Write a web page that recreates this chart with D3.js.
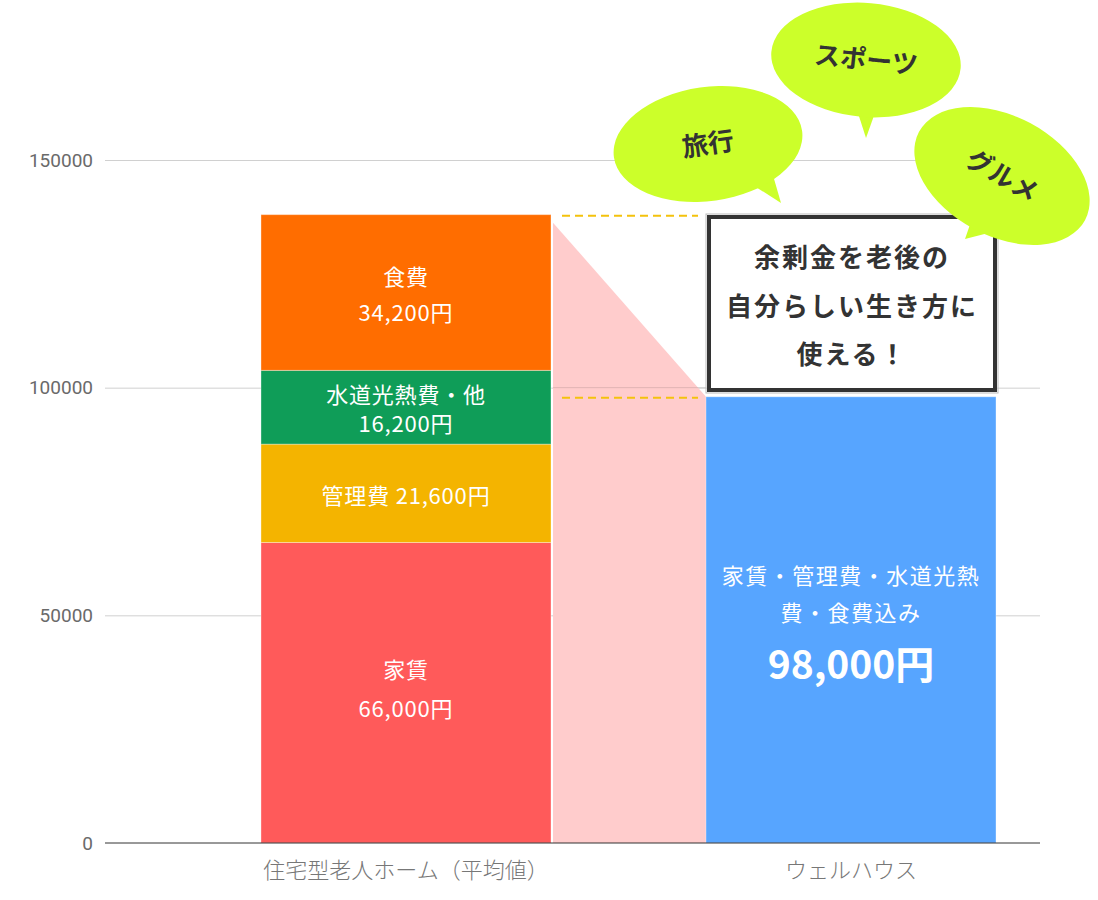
<!DOCTYPE html>
<html><head><meta charset="utf-8">
<script src="https://cdn.jsdelivr.net/npm/d3@7"></script>
<style>body{margin:0;background:#fff;} svg{display:block;}</style>
</head><body>
<svg id="c" width="1098" height="900"></svg>
<script>
const categories = ["住宅型老人ホーム（平均値）", "ウェルハウス"];
const stackKeys = ["家賃", "管理費", "水道光熱費・他", "食費"];
const stackValues = [66000, 21600, 16200, 34200];
const stackColors = ["#FF5A5A", "#F4B400", "#0F9D58", "#FF6D00"];
const stackLabels = [["家賃", "66,000円"], ["管理費 21,600円"], ["水道光熱費・他", "16,200円"], ["食費", "34,200円"]];
const wellValue = 98000;
const wellLabels = ["家賃・管理費・水道光熱", "費・食費込み"];
const wellValueLabel = "98,000円";
const yTicks = [0, 50000, 100000, 150000];
const messageLines = ["余剰金を老後の", "自分らしい生き方に", "使える！"];
const bubbles = ["旅行", "スポーツ", "グルメ"];

const svg = d3.select("#c");
const y = d3.scaleLinear().domain([0, 180000]).range([843, 23.4]);
const x = d3.scaleBand().domain(categories).range([105, 1040])
  .paddingInner(0.3483).paddingOuter(0.2247).align(0.78);
const bw = x.bandwidth();
const JP = "'Noto Sans CJK JP','Noto Sans',sans-serif";

// gridlines + ticks
const yAxis = d3.axisLeft(y).tickValues(yTicks).tickSize(-935).tickPadding(12).tickFormat(d3.format("d"));
const ga = svg.append("g").attr("transform", "translate(105,0)").call(yAxis);
ga.select(".domain").remove();
ga.selectAll(".tick line").attr("stroke", "#d0d0d0").attr("stroke-width", 1).attr("x1", 0);
ga.selectAll(".tick text").attr("fill", "#6a6a6a").attr("font-size", 19).attr("font-family", "Roboto, 'Noto Sans', sans-serif");
ga.selectAll(".tick").filter(d => d === 0).select("line").remove();

// pink connector
const x1r = x(categories[0]) + bw + 2, x2l = x(categories[1]);
const total = d3.sum(stackValues);
svg.append("path")
  .attr("d", `M${x1r},${y(total) + 8}L${x2l},${y(wellValue)}L${x2l},${y(0)}L${x1r},${y(0)}Z`)
  .attr("fill", "#FFCCCC");
svg.append("line").attr("x1", x1r).attr("x2", x2l).attr("y1", y(100000)).attr("y2", y(100000))
  .attr("stroke", "#000").attr("stroke-opacity", 0.12);

// stacked bar
let cum = 0;
const segs = stackValues.map((v, i) => { const s = {v, y0: cum, y1: cum + v, i}; cum += v; return s; });
svg.selectAll("rect.stack").data(segs).join("rect").attr("class", "stack")
  .attr("x", x(categories[0])).attr("width", bw)
  .attr("y", d => y(d.y1)).attr("height", d => y(d.y0) - y(d.y1))
  .attr("fill", d => stackColors[d.i]).attr("stroke", "rgba(255,255,255,0.35)").attr("stroke-width", 1);

const cx1 = x(categories[0]) + bw / 2;
segs.forEach(s => {
  const lines = stackLabels[s.i];
  const mid = (y(s.y0) + y(s.y1)) / 2;
  const lh = s.i === 2 ? 29 : (s.i === 0 ? 39 : 36);
  const off = s.i === 0 ? -3 : 3;
  lines.forEach((t, j) => {
    svg.append("text").attr("x", cx1).attr("y", mid + off + (j - (lines.length - 1) / 2) * lh)
      .attr("dy", "0.35em").attr("text-anchor", "middle").attr("fill", "#fff")
      .attr("font-size", 22).attr("letter-spacing", 0.8).attr("font-family", JP).text(t);
  });
});

// welhouse bar
const xb = x(categories[1]);
svg.append("rect").attr("x", xb).attr("width", bw).attr("y", y(wellValue)).attr("height", y(0) - y(wellValue))
  .attr("fill", "#57A5FF").attr("stroke", "rgba(255,255,255,0.35)");
const cx2 = xb + bw / 2;
wellLabels.forEach((t, j) => {
  svg.append("text").attr("x", cx2).attr("y", 576 + j * 37).attr("dy", "0.35em").attr("text-anchor", "middle")
    .attr("fill", "#fff").attr("font-size", 22).attr("letter-spacing", 1.5).attr("font-family", JP).text(t);
});
svg.append("text").attr("x", cx2).attr("y", 665).attr("dy", "0.35em").attr("text-anchor", "middle")
  .attr("fill", "#fff").attr("font-size", 39).attr("font-weight", 700).attr("font-family", JP).text(wellValueLabel);

// x axis
svg.append("line").attr("x1", 105).attr("x2", 1040).attr("y1", y(0)).attr("y2", y(0)).attr("stroke", "#333").attr("stroke-width", 1);
categories.forEach(c => {
  svg.append("text").attr("x", x(c) + bw / 2).attr("y", 870).attr("dy", "0.35em").attr("text-anchor", "middle")
    .attr("fill", "#777").attr("font-size", 22).attr("font-weight", 300).attr("font-family", JP).text(c);
});

// dashed lines
[total, wellValue].forEach(v => {
  svg.append("line").attr("x1", 562).attr("x2", 698).attr("y1", y(v) + 1).attr("y2", y(v) + 1)
    .attr("stroke", "#F4C20D").attr("stroke-width", 2).attr("stroke-dasharray", "8,5");
});

// message box
svg.append("rect").attr("x", 706).attr("y", 214).attr("width", 292).attr("height", 179).attr("fill", "none")
  .attr("stroke", "#bbb").attr("stroke-width", 1);
svg.append("rect").attr("x", 709).attr("y", 217).attr("width", 286).attr("height", 173).attr("fill", "#fff")
  .attr("stroke", "#333").attr("stroke-width", 4);
messageLines.forEach((t, j) => {
  svg.append("text").attr("x", 852).attr("y", 258 + j * 48.5).attr("dy", "0.35em").attr("text-anchor", "middle")
    .attr("fill", "#333").attr("font-size", 26).attr("font-weight", 700).attr("font-family", JP)
    .attr("letter-spacing", 2).text(t);
});

// speech bubbles
const lime = "#CCFF2A";
function bubble(cx, cy, rx, ry, rot, tail, label, trot) {
  const g = svg.append("g");
  g.append("path").attr("d", `M${tail[0][0]},${tail[0][1]}L${tail[1][0]},${tail[1][1]}L${tail[2][0]},${tail[2][1]}Z`).attr("fill", lime);
  g.append("ellipse").attr("cx", cx).attr("cy", cy).attr("rx", rx).attr("ry", ry)
    .attr("transform", `rotate(${rot},${cx},${cy})`).attr("fill", lime);
  g.append("text").attr("x", cx).attr("y", cy).attr("dy", "0.35em").attr("text-anchor", "middle")
    .attr("transform", `rotate(${trot},${cx},${cy})`)
    .attr("fill", "#333").attr("font-size", 26).attr("font-weight", 700).attr("font-family", JP).text(label);
}
bubble(708, 144, 95, 57, -8, [[745, 180], [781, 203], [770, 165]], bubbles[0], -8);
bubble(866, 60, 95, 57, 5, [[857, 110], [866, 138], [876, 110]], bubbles[1], 6);
bubble(1002, 176, 94, 60, 28, [[975, 210], [965, 239], [1000, 230]], bubbles[2], 30);
</script>
</body></html>
